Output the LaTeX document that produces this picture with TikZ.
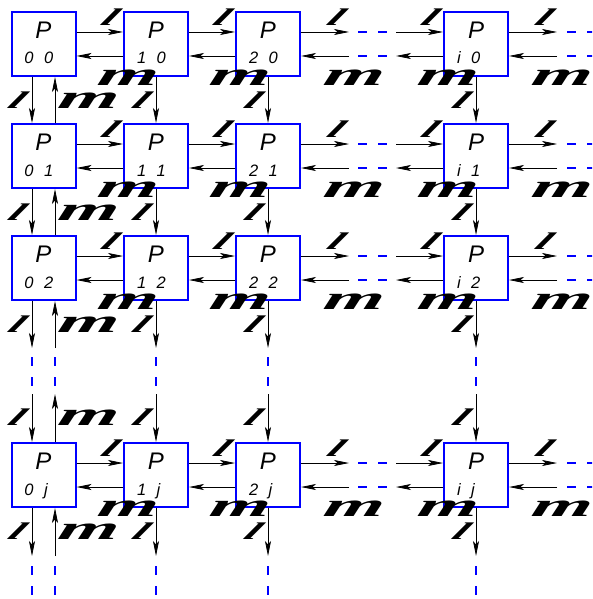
\documentclass[tikz,border=0pt]{standalone}
\usepackage{fontspec}
\setmainfont{Liberation Sans}
\newfontfamily\labfont{Liberation Serif}
\usetikzlibrary{arrows.meta,calc}
\newcommand\Pfont{\fontsize{24}{24}\selectfont\itshape}
\newcommand\Sfont{\fontsize{16.5}{16.5}\selectfont\itshape}
\newcommand\boxtxt[2]{\vbox{\offinterlineskip\hbox to 64pt{\hss{\Pfont P}\hss}\vskip 14pt\hbox to 64pt{\hskip 13pt{\Sfont #1\hskip 10.5pt #2}\hss}}}
\tikzset{
  box/.style={draw=blue, line width=2pt, fill=white, minimum width=64pt, minimum height=64pt,
    inner sep=0pt, text height=44pt, text depth=4pt},
  arr/.style={-{Stealth[length=15pt,width=6pt,inset=3.5pt]}, line width=0.8pt, black},
  dsh/.style={blue, line width=2pt, dash pattern=on 9pt off 11pt},
  ellf/.style={inner sep=0pt, font=\labfont\bfseries\itshape\fontsize{24}{24}\selectfont, xscale=2.1, xslant=0.3},
  emf/.style={inner sep=0pt, font=\labfont\bfseries\itshape\fontsize{33}{33}\selectfont, xscale=2.35, xslant=0.1},
  labR/.style={at end, xshift=-12pt, yshift=14.5pt, ellf},
  labL/.style={at start, xshift=5pt, yshift=-21.5pt, emf},
  labD/.style={at start, xshift=-14pt, yshift=-23.5pt, ellf},
  labU/.style={at end, xshift=33.5pt, yshift=-24pt, emf},
}
\begin{document}
\begin{tikzpicture}[x=1pt,y=-1pt]
\useasboundingbox (0,0) rectangle (592,599);
\clip (0,0) rectangle (592,599);
% boxes
\foreach \c/\x/\cl in {0/43.5/0,1/156/1,2/268/2,3/476/i}{
  \foreach \r/\y/\rl in {0/44/0,1/156/1,2/268/2,3/475/j}{
    \node[box] (b\c\r) at (\x,\y) {\boxtxt{\cl}{\rl}};
  }
}
% horizontal connectors
\foreach \r in {0,1,2,3}{
  \foreach \a/\b in {0/1,1/2}{
    \draw[arr] ($(b\a\r.east)+(0,-12)$) -- ($(b\b\r.west)+(0,-12)$) node[labR]{l};
    \draw[arr] ($(b\b\r.west)+(0,12)$) -- ($(b\a\r.east)+(0,12)$) node[labL]{m};
  }
  \coordinate (Ru\r) at ($(b2\r.east)+(48,-12)$);
  \coordinate (Rd\r) at ($(b2\r.east)+(48,12)$);
  \coordinate (Lu\r) at ($(b3\r.west)+(-47,-12)$);
  \coordinate (Ld\r) at ($(b3\r.west)+(-47,12)$);
  \coordinate (Eu\r) at ($(b3\r.east)+(48,-12)$);
  \coordinate (Ed\r) at ($(b3\r.east)+(48,12)$);
  \coordinate (Fu\r) at ($(b3\r.east)+(100,-12)$);
  \coordinate (Fd\r) at ($(b3\r.east)+(100,12)$);
  \draw[arr] ($(b2\r.east)+(0,-12)$) -- (Ru\r) node[labR]{l};
  \draw[arr] (Rd\r) -- ($(b2\r.east)+(0,12)$) node[labL]{m};
  \draw[dsh, dash phase=11pt] (Ru\r) -- (Lu\r);
  \draw[dsh, dash phase=11pt] (Rd\r) -- (Ld\r);
  \draw[arr] (Lu\r) -- ($(b3\r.west)+(0,-12)$) node[labR]{l};
  \draw[arr] ($(b3\r.west)+(0,12)$) -- (Ld\r) node[labL]{m};
  \draw[arr] ($(b3\r.east)+(0,-12)$) -- (Eu\r) node[labR]{l};
  \draw[arr] (Ed\r) -- ($(b3\r.east)+(0,12)$) node[labL]{m};
  \draw[dsh, dash phase=10pt] (Eu\r) -- (Fu\r);
  \draw[dsh, dash phase=10pt] (Ed\r) -- (Fd\r);
}
% vertical down connectors
\foreach \c/\dx in {0/-11.5,1/0,2/0,3/0}{
  \draw[arr] ($(b\c0.south)+(\dx,0)$) -- ($(b\c1.north)+(\dx,0)$) node[labD]{l};
  \draw[arr] ($(b\c1.south)+(\dx,0)$) -- ($(b\c2.north)+(\dx,0)$) node[labD]{l};
  \coordinate (Da\c) at ($(b\c2.south)+(\dx,47)$);
  \coordinate (Db\c) at ($(b\c3.north)+(\dx,-48)$);
  \coordinate (Dc\c) at ($(b\c3.south)+(\dx,48)$);
  \coordinate (Dd\c) at ($(b\c3.south)+(\dx,100)$);
  \draw[arr] ($(b\c2.south)+(\dx,0)$) -- (Da\c) node[labD]{l};
  \draw[dsh, dash phase=11pt] (Da\c) -- (Db\c);
  \draw[arr] (Db\c) -- ($(b\c3.north)+(\dx,0)$) node[labD]{l};
  \draw[arr] ($(b\c3.south)+(\dx,0)$) -- (Dc\c) node[labD]{l};
  \draw[dsh, dash phase=10pt] (Dc\c) -- (Dd\c);
}
% vertical up connectors (column 0)
\draw[arr] ($(b01.north)+(11.5,0)$) -- ($(b00.south)+(11.5,0)$) node[labU]{m};
\draw[arr] ($(b02.north)+(11.5,0)$) -- ($(b01.south)+(11.5,0)$) node[labU]{m};
\coordinate (Ua) at ($(b02.south)+(11.5,47)$);
\coordinate (Ub) at ($(b03.north)+(11.5,-48)$);
\coordinate (Uc) at ($(b03.south)+(11.5,48)$);
\coordinate (Ud) at ($(b03.south)+(11.5,100)$);
\draw[arr] (Ua) -- ($(b02.south)+(11.5,0)$) node[labU]{m};
\draw[dsh, dash phase=11pt] (Ua) -- (Ub);
\draw[arr] ($(b03.north)+(11.5,0)$) -- (Ub) node[labU]{m};
\draw[arr] (Uc) -- ($(b03.south)+(11.5,0)$) node[labU]{m};
\draw[dsh, dash phase=10pt] (Uc) -- (Ud);
\end{tikzpicture}
\end{document}
